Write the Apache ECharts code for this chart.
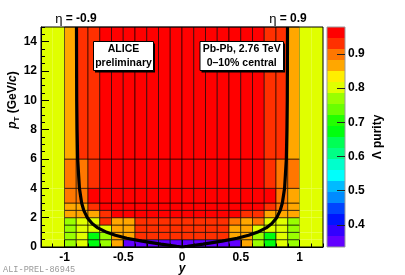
<!DOCTYPE html>
<html><head><meta charset="utf-8">
<script src="https://cdn.jsdelivr.net/npm/echarts@6/dist/echarts.min.js"></script>
<style>html,body{margin:0;padding:0;background:#fff}#c{width:405px;height:275px}</style>
</head><body><div id="c"></div>
<script>
// ---- data ----
const rapidityEdges = [-1.2,-1.1,-1.0,-0.9,-0.8,-0.7,-0.6,-0.5,-0.4,-0.3,-0.2,-0.1,0,0.1,0.2,0.3,0.4,0.5,0.6,0.7,0.8,0.9,1.0,1.1,1.2];
const ptEdges = [0,0.5,1,1.5,2,2.5,3,4,6,15];
// Lambda purity per pT bin, one value per rapidity bin (left to right)
const purityPt0to05   = [0.80,0.80,0.77,0.80,0.67,0.77,0.87,0.35,0.35,0.35,0.35,0.35,0.35,0.35,0.35,0.35,0.35,0.87,0.77,0.67,0.80,0.77,0.80,0.80];
const purityPt05to1   = [0.80,0.80,0.77,0.80,0.67,0.77,0.87,0.87,0.93,0.93,0.93,0.93,0.93,0.93,0.93,0.93,0.87,0.87,0.77,0.67,0.80,0.77,0.80,0.80];
const purityPt1to15   = [0.80,0.80,0.77,0.80,0.80,0.80,0.87,0.87,0.93,0.93,0.93,0.93,0.93,0.93,0.93,0.93,0.87,0.87,0.80,0.80,0.80,0.77,0.80,0.80];
const purityPt15to2   = [0.80,0.80,0.77,0.80,0.80,0.93,0.87,0.87,0.93,0.93,0.93,0.93,0.93,0.93,0.93,0.93,0.90,0.87,0.90,0.80,0.80,0.77,0.80,0.80];
const purityPt2to25   = [0.80,0.80,0.87,0.87,0.87,0.93,0.96,0.96,0.96,0.96,0.96,0.96,0.96,0.96,0.96,0.96,0.96,0.93,0.93,0.87,0.87,0.87,0.80,0.80];
const purityPt25to3   = [0.80,0.80,0.87,0.87,0.93,0.96,0.96,0.96,0.96,0.96,0.96,0.96,0.96,0.96,0.96,0.96,0.96,0.96,0.96,0.93,0.90,0.87,0.80,0.80];
const purityPt3to4    = [0.80,0.80,0.90,0.90,0.96,0.96,0.96,0.96,0.96,0.96,0.96,0.96,0.96,0.96,0.96,0.96,0.96,0.96,0.96,0.96,0.90,0.87,0.80,0.80];
const purityPt4to6    = [0.80,0.80,0.90,0.90,0.93,0.96,0.96,0.96,0.96,0.96,0.96,0.96,0.96,0.96,0.96,0.96,0.96,0.96,0.96,0.93,0.90,0.90,0.80,0.80];
const purityPt6to15   = [0.80,0.80,0.87,0.93,0.93,0.96,0.96,0.96,0.96,0.96,0.96,0.96,0.96,0.96,0.96,0.96,0.96,0.96,0.96,0.93,0.93,0.87,0.80,0.80];
// |eta| = 0.9 acceptance boundary (|y| vs pT)
const etaCurveRapidity = [0.898,0.897,0.896,0.893,0.888,0.873,0.854,0.836,0.806,0.765,0.716,0.640,0.567,0.469,0.340,0.180,0.046,0];
const etaCurvePt       = [15,12,10,8,6,4,3,2.5,2,1.6,1.3,1.0,0.8,0.6,0.4,0.2,0.05,0];
// colour scale
const zMin = 0.335, zMax = 0.979;
const paletteColors = ['#6200ff','#3300ff','#0014ff','#0044ff','#008bff','#00bbff','#00fffc','#00ffcc','#00ff85','#00ff55',
                       '#00ff0e','#22ff00','#69ff00','#99ff00','#e0ff00','#ffee00','#ffa700','#ff7700','#ff3000','#ff0000'];
const zTickValues = [0.4,0.5,0.6,0.7,0.8,0.9];
const xTickValues = [-1,-0.5,0,0.5,1];
const ptTickValues = [0,2,4,6,8,10,12,14];

// ---- build ----
const purityByPtBin = [purityPt0to05,purityPt05to1,purityPt1to15,purityPt15to2,purityPt2to25,purityPt25to3,purityPt3to4,purityPt4to6,purityPt6to15];
const cells = [];
purityByPtBin.forEach((row, j) => row.forEach((v, i) => {
  cells.push([rapidityEdges[i], rapidityEdges[i+1], ptEdges[j], ptEdges[j+1], v]);
}));
const nLev = paletteColors.length;
const levEdges = [];
for (let k = 0; k <= nLev; k++) levEdges.push(zMin + (zMax - zMin) * k / nLev);
const pieces = paletteColors.map((c, k) => (k === nLev - 1
  ? {gte: levEdges[k], lte: levEdges[k+1] + 1, color: c}
  : {gte: levEdges[k], lt: levEdges[k+1], color: c}));
pieces[0].gte = levEdges[0] - 1;
const barCells = paletteColors.map((c, k) => [0, 1, levEdges[k], levEdges[k+1], (levEdges[k] + levEdges[k+1]) / 2]);
const curveData = [];
for (let i = 0; i < etaCurvePt.length; i++) curveData.push([-etaCurveRapidity[i], etaCurvePt[i]]);
for (let i = etaCurvePt.length - 2; i >= 0; i--) curveData.push([etaCurveRapidity[i], etaCurvePt[i]]);

const FONT = '"Liberation Sans", Arial, Helvetica, sans-serif';
function cellRenderer(withBorder) {
  return function (params, api) {
    const a = api.value(0), b = api.value(1);
    const p0 = api.coord([a, api.value(2)]);
    const p1 = api.coord([b, api.value(3)]);
    const outer = Math.abs(a) > 0.999 && Math.abs(b) > 0.999;
    return {
      type: 'rect',
      shape: {x: p0[0], y: p1[1], width: p1[0] - p0[0], height: p0[1] - p1[1]},
      style: {fill: api.visual('color'), stroke: (withBorder && !outer) ? 'rgba(0,0,0,0.6)' : null, lineWidth: 1}
    };
  };
}

const chart = echarts.init(document.getElementById('c'), null, {renderer: 'canvas'});
const lbl = {color: '#000', fontWeight: 'bold', fontSize: 12, fontFamily: FONT};
chart.setOption({
  animation: false,
  backgroundColor: '#fff',
  grid: [
    {left: 41, top: 27, width: 282, height: 220, show: true, borderColor: '#000', borderWidth: 1, z: 10,
     backgroundColor: 'transparent', containLabel: false, outerBoundsMode: 'none'},
    {left: 327, top: 27, width: 18, height: 220, show: true, borderColor: '#999', borderWidth: 1, z: 10,
     backgroundColor: 'transparent', containLabel: false, outerBoundsMode: 'none'}
  ],
  xAxis: [
    {type: 'value', gridIndex: 0, position: 'bottom', min: -1.2, max: 1.2, interval: 0.1, z: 10,
     axisLine: {onZero: false, lineStyle: {color: '#000'}}, axisTick: {inside: true, length: 3.5, lineStyle: {color: '#000'}},
     axisLabel: {show: false}, splitLine: {show: false}},
    {type: 'value', gridIndex: 0, position: 'bottom', min: -1.2, max: 1.2, z: 10,
     axisLine: {show: false, onZero: false},
     axisTick: {inside: true, length: 7, customValues: xTickValues, lineStyle: {color: '#000'}},
     axisLabel: Object.assign({customValues: xTickValues, margin: 5}, lbl),
     splitLine: {show: false},
     name: 'y', nameLocation: 'middle', nameGap: 16, nameMoveOverlap: false,
     nameTextStyle: {color: '#000', fontWeight: 'bold', fontStyle: 'italic', fontSize: 12, fontFamily: FONT}},
    {type: 'value', gridIndex: 1, min: 0, max: 1, show: false}
  ],
  yAxis: [
    {type: 'value', gridIndex: 0, position: 'left', min: 0, max: 15, interval: 0.5, z: 10,
     axisLine: {onZero: false, lineStyle: {color: '#000'}}, axisTick: {inside: true, length: 4, lineStyle: {color: '#000'}},
     axisLabel: {show: false}, splitLine: {show: false}},
    {type: 'value', gridIndex: 0, position: 'left', min: 0, max: 15, z: 10,
     axisLine: {show: false, onZero: false},
     axisTick: {inside: true, length: 8, customValues: ptTickValues, lineStyle: {color: '#000'}},
     axisLabel: Object.assign({customValues: ptTickValues, margin: 4}, lbl),
     splitLine: {show: false}},
    {type: 'value', gridIndex: 1, position: 'right', min: zMin, max: zMax, z: 10,
     axisLine: {show: false, onZero: false},
     axisTick: {inside: true, length: 8, customValues: zTickValues, lineStyle: {color: '#222'}},
     axisLabel: Object.assign({customValues: zTickValues, margin: 3, formatter: v => v.toFixed(1)}, lbl),
     splitLine: {show: false},
     name: 'Λ purity', nameLocation: 'middle', nameRotate: 90, nameGap: 27, nameMoveOverlap: false,
     nameTextStyle: {color: '#000', fontWeight: 'bold', fontSize: 12, fontFamily: FONT}}
  ],
  visualMap: {type: 'piecewise', show: false, dimension: 4, seriesIndex: [0, 2], pieces: pieces},
  series: [
    {type: 'custom', xAxisIndex: 0, yAxisIndex: 0, renderItem: cellRenderer(true),
     encode: {x: [0, 1], y: [2, 3]}, data: cells, z: 2},
    {type: 'line', xAxisIndex: 0, yAxisIndex: 0, data: curveData, showSymbol: false, symbol: 'none',
     lineStyle: {color: '#000', width: 3.2}, z: 5, clip: true},
    {type: 'custom', xAxisIndex: 2, yAxisIndex: 2, renderItem: cellRenderer(false),
     encode: {x: [0, 1], y: [2, 3]}, data: barCells, z: 2}
  ],
  graphic: [
    {type: 'text', x: 76, y: 19, z: 20, style: {text: '{e|η} = -0.9', align: 'center', verticalAlign: 'middle',
      fill: '#000', font: 'bold 12px ' + FONT, rich: {e: {fontWeight: 'normal', fontSize: 13, fontFamily: FONT}}}},
    {type: 'text', x: 288, y: 19, z: 20, style: {text: '{e|η} = 0.9', align: 'center', verticalAlign: 'middle',
      fill: '#000', font: 'bold 12px ' + FONT, rich: {e: {fontWeight: 'normal', fontSize: 13, fontFamily: FONT}}}},
    {type: 'rect', z: 20, shape: {x: 95, y: 43.5, width: 60, height: 29}, style: {fill: '#000'}},
    {type: 'rect', z: 21, shape: {x: 93.5, y: 41.5, width: 60, height: 29}, style: {fill: '#fff', stroke: '#000', lineWidth: 1}},
    {type: 'text', z: 22, x: 123.5, y: 49.5, style: {text: 'ALICE', align: 'center', verticalAlign: 'middle', fill: '#000', font: 'bold 10.5px ' + FONT}},
    {type: 'text', z: 22, x: 123.5, y: 63.5, style: {text: 'preliminary', align: 'center', verticalAlign: 'middle', fill: '#000', font: 'bold 10.5px ' + FONT}},
    {type: 'rect', z: 20, shape: {x: 201.5, y: 43.5, width: 83.5, height: 29}, style: {fill: '#000'}},
    {type: 'rect', z: 21, shape: {x: 200, y: 41.5, width: 83.5, height: 29}, style: {fill: '#fff', stroke: '#000', lineWidth: 1}},
    {type: 'text', z: 22, x: 241.7, y: 49.5, style: {text: 'Pb-Pb, 2.76 TeV', align: 'center', verticalAlign: 'middle', fill: '#000', font: 'bold 10.5px ' + FONT}},
    {type: 'text', z: 22, x: 241.7, y: 63.5, style: {text: '0\u201310% central', align: 'center', verticalAlign: 'middle', fill: '#000', font: 'bold 10.5px ' + FONT}},
    {type: 'text', z: 20, x: 13, y: 100, rotation: Math.PI / 2, style: {
      text: '{i|p}{s|T}{n| (GeV/}{i|c}{n|)}', align: 'center', verticalAlign: 'middle', fill: '#000',
      rich: {
        i: {fontWeight: 'bold', fontStyle: 'italic', fontSize: 12, fontFamily: FONT, lineHeight: 16},
        n: {fontWeight: 'bold', fontSize: 12, fontFamily: FONT, lineHeight: 16},
        s: {fontWeight: 'bold', fontSize: 8, fontFamily: FONT, lineHeight: 8, verticalAlign: 'bottom'}
      }}},
    {type: 'text', z: 20, x: 3, y: 270, style: {text: 'ALI-PREL-86945', align: 'left', verticalAlign: 'middle',
      fill: '#999', font: '8.6px "Liberation Mono", "DejaVu Sans Mono", monospace'}}
  ]
});
</script></body></html>
